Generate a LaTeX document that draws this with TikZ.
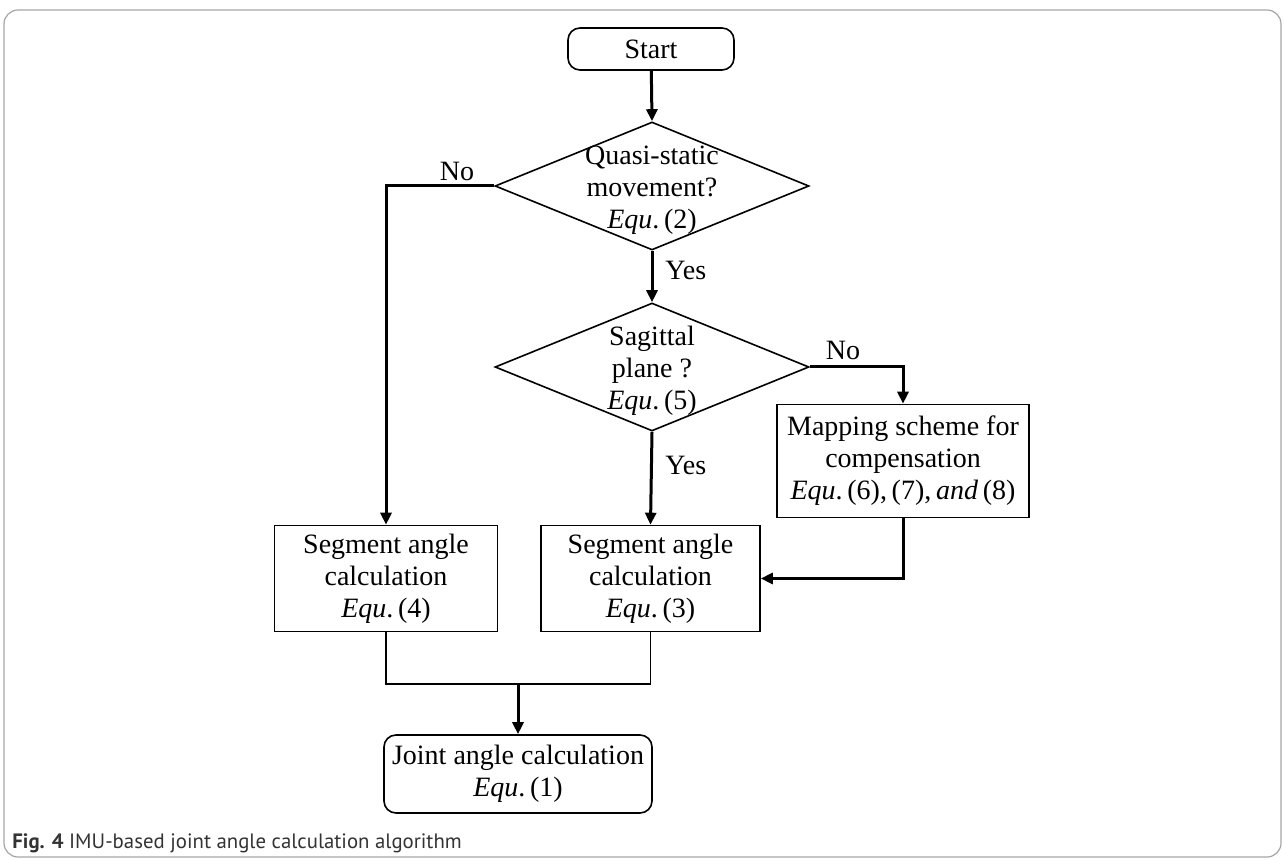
\documentclass[tikz,border=0pt]{standalone}
\usepackage{fontspec}
\setmainfont{Liberation Serif}
\setsansfont{PT Sans}
\usepackage{tikz}
\usetikzlibrary{positioning,arrows.meta,shapes.geometric,calc}

\newcommand{\flowfont}{\fontsize{14}{16}\selectfont}
\newcommand{\eqref}[1]{\textit{Equ}.\,(#1)}

\begin{document}
\begin{tikzpicture}[x=0.5pt, y=-0.5pt,
    box/.style={rectangle, draw, line width=0.8pt, minimum width=#1, minimum height=53pt, align=center, inner sep=0pt, font=\flowfont},
    term/.style={box=#1, rounded corners=6pt},
    decision/.style={diamond, draw, line width=0.8pt, minimum width=157pt, minimum height=64pt, inner sep=0pt},
    txt/.style={align=center, inner sep=0pt, font=\flowfont},
    arrow/.style={-{Triangle[length=6pt,width=5.5pt]}, line width=1.5pt},
    link/.style={line width=0.8pt}
]
\useasboundingbox (0,0) rectangle (1284,860);
\draw[gray!70, line width=0.6pt, rounded corners=7pt] (4,10) rectangle (1281,857);

\node[term=83pt, minimum height=21pt] (start) at (651,49) {Start};

\node[decision] (quasi) at (652,186) {};
\node[txt] (quasitxt) at (652,190) {Quasi-static\\movement?\\\eqref{2}};

\node[decision] (sagit) at (652,367) {};
\node[txt] (sagittxt) at (652,371) {Sagittal\\plane ?\\\eqref{5}};

\node[box=126pt, minimum height=56.5pt] (mapping) at (903,461) {Mapping scheme for\\compensation\\\eqref{6},\,(7),\,\textit{and}\,(8)};

\node[box=111.5pt] (seg1) at (386,578.5) {Segment angle\\calculation\\\eqref{4}};
\node[box=109.5pt] (seg2) at (650.5,578.5) {Segment angle\\calculation\\\eqref{3}};

\node[term=134pt, minimum height=39pt] (joint) at (518,774) {Joint angle calculation\\\eqref{1}};
\coordinate (merge) at (518,684);

% labels on the branches
\node[txt, anchor=west] (yes1) at (665,270) {Yes};
\node[txt, anchor=west] (yes2) at (665,465) {Yes};
\node[txt] (no1) at (457,171) {No};
\node[txt] (no2) at (843,350) {No};

\draw[arrow] (start) -- (quasi.north);
\draw[arrow] (quasi.south) -- (sagit.north);
\draw[arrow] (quasi.west) -| (seg1.north);
\draw[arrow] (sagit.east) -| (mapping.north);
\draw[arrow] (sagit.south) -- (seg2.north);
\draw[arrow] (mapping.south) |- (seg2.east);
\draw[link] (seg1.south) |- (merge) -| (seg2.south);
\draw[arrow] (merge) -- (joint.north);

\node[anchor=base west, inner sep=0pt, text=black!80, font=\sffamily\fontsize{10.4}{12}\selectfont] (caption) at (12,848) {\textbf{Fig. 4} IMU-based joint angle calculation algorithm};
\end{tikzpicture}
\end{document}
